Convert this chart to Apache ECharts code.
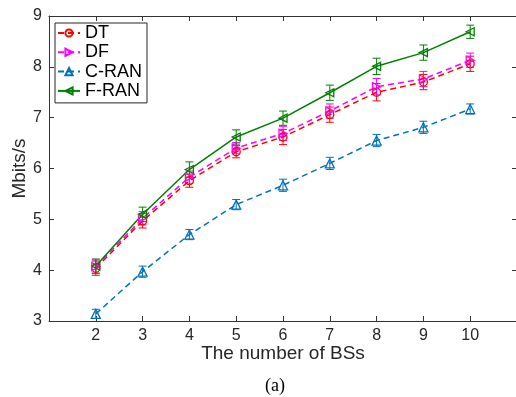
<!DOCTYPE html>
<html>
<head>
<meta charset="utf-8">
<script src="https://cdn.jsdelivr.net/npm/echarts@6/dist/echarts.min.js"></script>
<style>html,body{margin:0;padding:0;background:#fff}#c{width:516px;height:397px}</style>
</head>
<body>
<div id="c"></div>
<script>
const xs = [2, 3, 4, 5, 6, 7, 8, 9, 10];
const dt   = [4.04, 4.97, 5.76, 6.33, 6.62, 7.06, 7.50, 7.70, 8.06];
const df   = [4.07, 5.02, 5.83, 6.40, 6.69, 7.13, 7.61, 7.76, 8.13];
const cran = [3.14, 3.97, 4.70, 5.29, 5.67, 6.10, 6.55, 6.81, 7.17];
const fran = [4.08, 5.10, 5.98, 6.62, 6.99, 7.49, 8.01, 8.28, 8.69];
const dtErr   = [0.14, 0.14, 0.13, 0.12, 0.15, 0.15, 0.17, 0.15, 0.15];
const dfErr   = [0.13, 0.13, 0.12, 0.11, 0.14, 0.14, 0.16, 0.15, 0.14];
const cranErr = [0.09, 0.11, 0.10, 0.10, 0.12, 0.12, 0.12, 0.12, 0.10];
const franErr = [0.14, 0.14, 0.15, 0.14, 0.14, 0.15, 0.16, 0.15, 0.13];
const seriesNames = ['DT', 'DF', 'C-RAN', 'F-RAN'];
const yTicks = [3, 4, 5, 6, 7, 8, 9];

const defs = [
  {name: 'DT', vals: dt, err: dtErr, color: '#ff0000', symbol: 'circle', size: 8, dash: [6, 4]},
  {name: 'DF', vals: df, err: dfErr, color: '#ff00ff', symbol: 'path://M0,0 L10,5 L0,10 Z', size: 8, dash: [6, 4]},
  {name: 'C-RAN', vals: cran, err: cranErr, color: '#0072bd', symbol: 'path://M5,0 L10,10 L0,10 Z', size: 9, dash: [6, 4]},
  {name: 'F-RAN', vals: fran, err: franErr, color: '#008000', symbol: 'path://M10,0 L0,5 L10,10 Z', size: 8, dash: 'solid'}
];

const series = [];
defs.forEach(d => {
  series.push({
    name: d.name + '_err',
    type: 'custom',
    data: xs.map((x, i) => [x, d.vals[i], d.err[i]]),
    renderItem: function (params, api) {
      const x = api.value(0), y = api.value(1), e = api.value(2);
      const t = api.coord([x, y + e]);
      const b = api.coord([x, y - e]);
      const w = 4;
      const st = {stroke: d.color, lineWidth: 1};
      return {type: 'group', children: [
        {type: 'line', shape: {x1: t[0], y1: t[1], x2: b[0], y2: b[1]}, style: st},
        {type: 'line', shape: {x1: t[0] - w, y1: t[1], x2: t[0] + w, y2: t[1]}, style: st},
        {type: 'line', shape: {x1: b[0] - w, y1: b[1], x2: b[0] + w, y2: b[1]}, style: st}
      ]};
    },
    silent: true
  });
  series.push({
    name: d.name,
    type: 'line',
    data: xs.map((x, i) => [x, d.vals[i]]),
    symbol: d.symbol,
    symbolSize: d.size,
    showAllSymbol: true,
    lineStyle: {color: d.color, width: 1.5, type: d.dash},
    itemStyle: {color: 'rgba(255,255,255,0)', borderColor: d.color, borderWidth: 1.3},
    emphasis: {disabled: true},
    animation: false,
    z: 3
  });
});

const axisColor = '#333';
const chart = echarts.init(document.getElementById('c'), null, {renderer: 'canvas'});
chart.setOption({
  animation: false,
  backgroundColor: '#fff',
  grid: {left: 49, top: 16, width: 468, height: 305, containLabel: false, outerBoundsMode: 'none'},
  legend: {
    data: seriesNames,
    orient: 'vertical',
    left: 55, top: 23,
    padding: [1, 5, 3, 2],
    itemWidth: 22, itemHeight: 9, itemGap: 1.3,
    backgroundColor: '#fff',
    borderColor: '#262626', borderWidth: 1,
    textStyle: {fontFamily: 'Liberation Sans', fontSize: 18, color: '#000', lineHeight: 18},
    selectedMode: false
  },
  xAxis: [
    {type: 'value', min: 1, max: 11, interval: 1,
     name: 'The number of BSs', nameLocation: 'middle', nameGap: 23, nameMoveOverlap: false,
     nameTextStyle: {fontFamily: 'Liberation Sans', fontSize: 19, color: '#262626', verticalAlign: 'top'},
     axisLine: {show: true, lineStyle: {color: axisColor, width: 1}},
     axisTick: {show: true, inside: true, length: 5, lineStyle: {color: axisColor}},
     axisLabel: {fontFamily: 'Liberation Sans', fontSize: 16, color: '#262626', margin: 7,
       formatter: v => (v >= 2 && v <= 10) ? String(v) : ''},
     splitLine: {show: false}},
    {type: 'value', min: 1, max: 11, interval: 1, position: 'top',
     axisLine: {show: true, lineStyle: {color: axisColor, width: 1}},
     axisTick: {show: true, inside: true, length: 5, lineStyle: {color: axisColor}},
     axisLabel: {show: false}, splitLine: {show: false}}
  ],
  yAxis: [
    {type: 'value', min: yTicks[0], max: yTicks[yTicks.length - 1], interval: 1,
     name: 'Mbits/s', nameLocation: 'middle', nameGap: 20, nameMoveOverlap: false,
     nameTextStyle: {fontFamily: 'Liberation Sans', fontSize: 19, color: '#262626'},
     axisLine: {show: true, lineStyle: {color: axisColor, width: 1}},
     axisTick: {show: true, inside: true, length: 5, lineStyle: {color: axisColor}},
     axisLabel: {fontFamily: 'Liberation Sans', fontSize: 16, color: '#262626', margin: 7},
     splitLine: {show: false}},
    {type: 'value', min: 3, max: 9, interval: 1, position: 'right',
     axisLine: {show: true, lineStyle: {color: axisColor, width: 1}},
     axisTick: {show: true, inside: true, length: 5, lineStyle: {color: axisColor}},
     axisLabel: {show: false}, splitLine: {show: false}}
  ],
  graphic: [{
    type: 'text', left: 265, top: 377,
    style: {text: '(a)', font: '18px "Liberation Serif"', fill: '#000'}
  }],
  series: series
});
</script>
</body>
</html>
